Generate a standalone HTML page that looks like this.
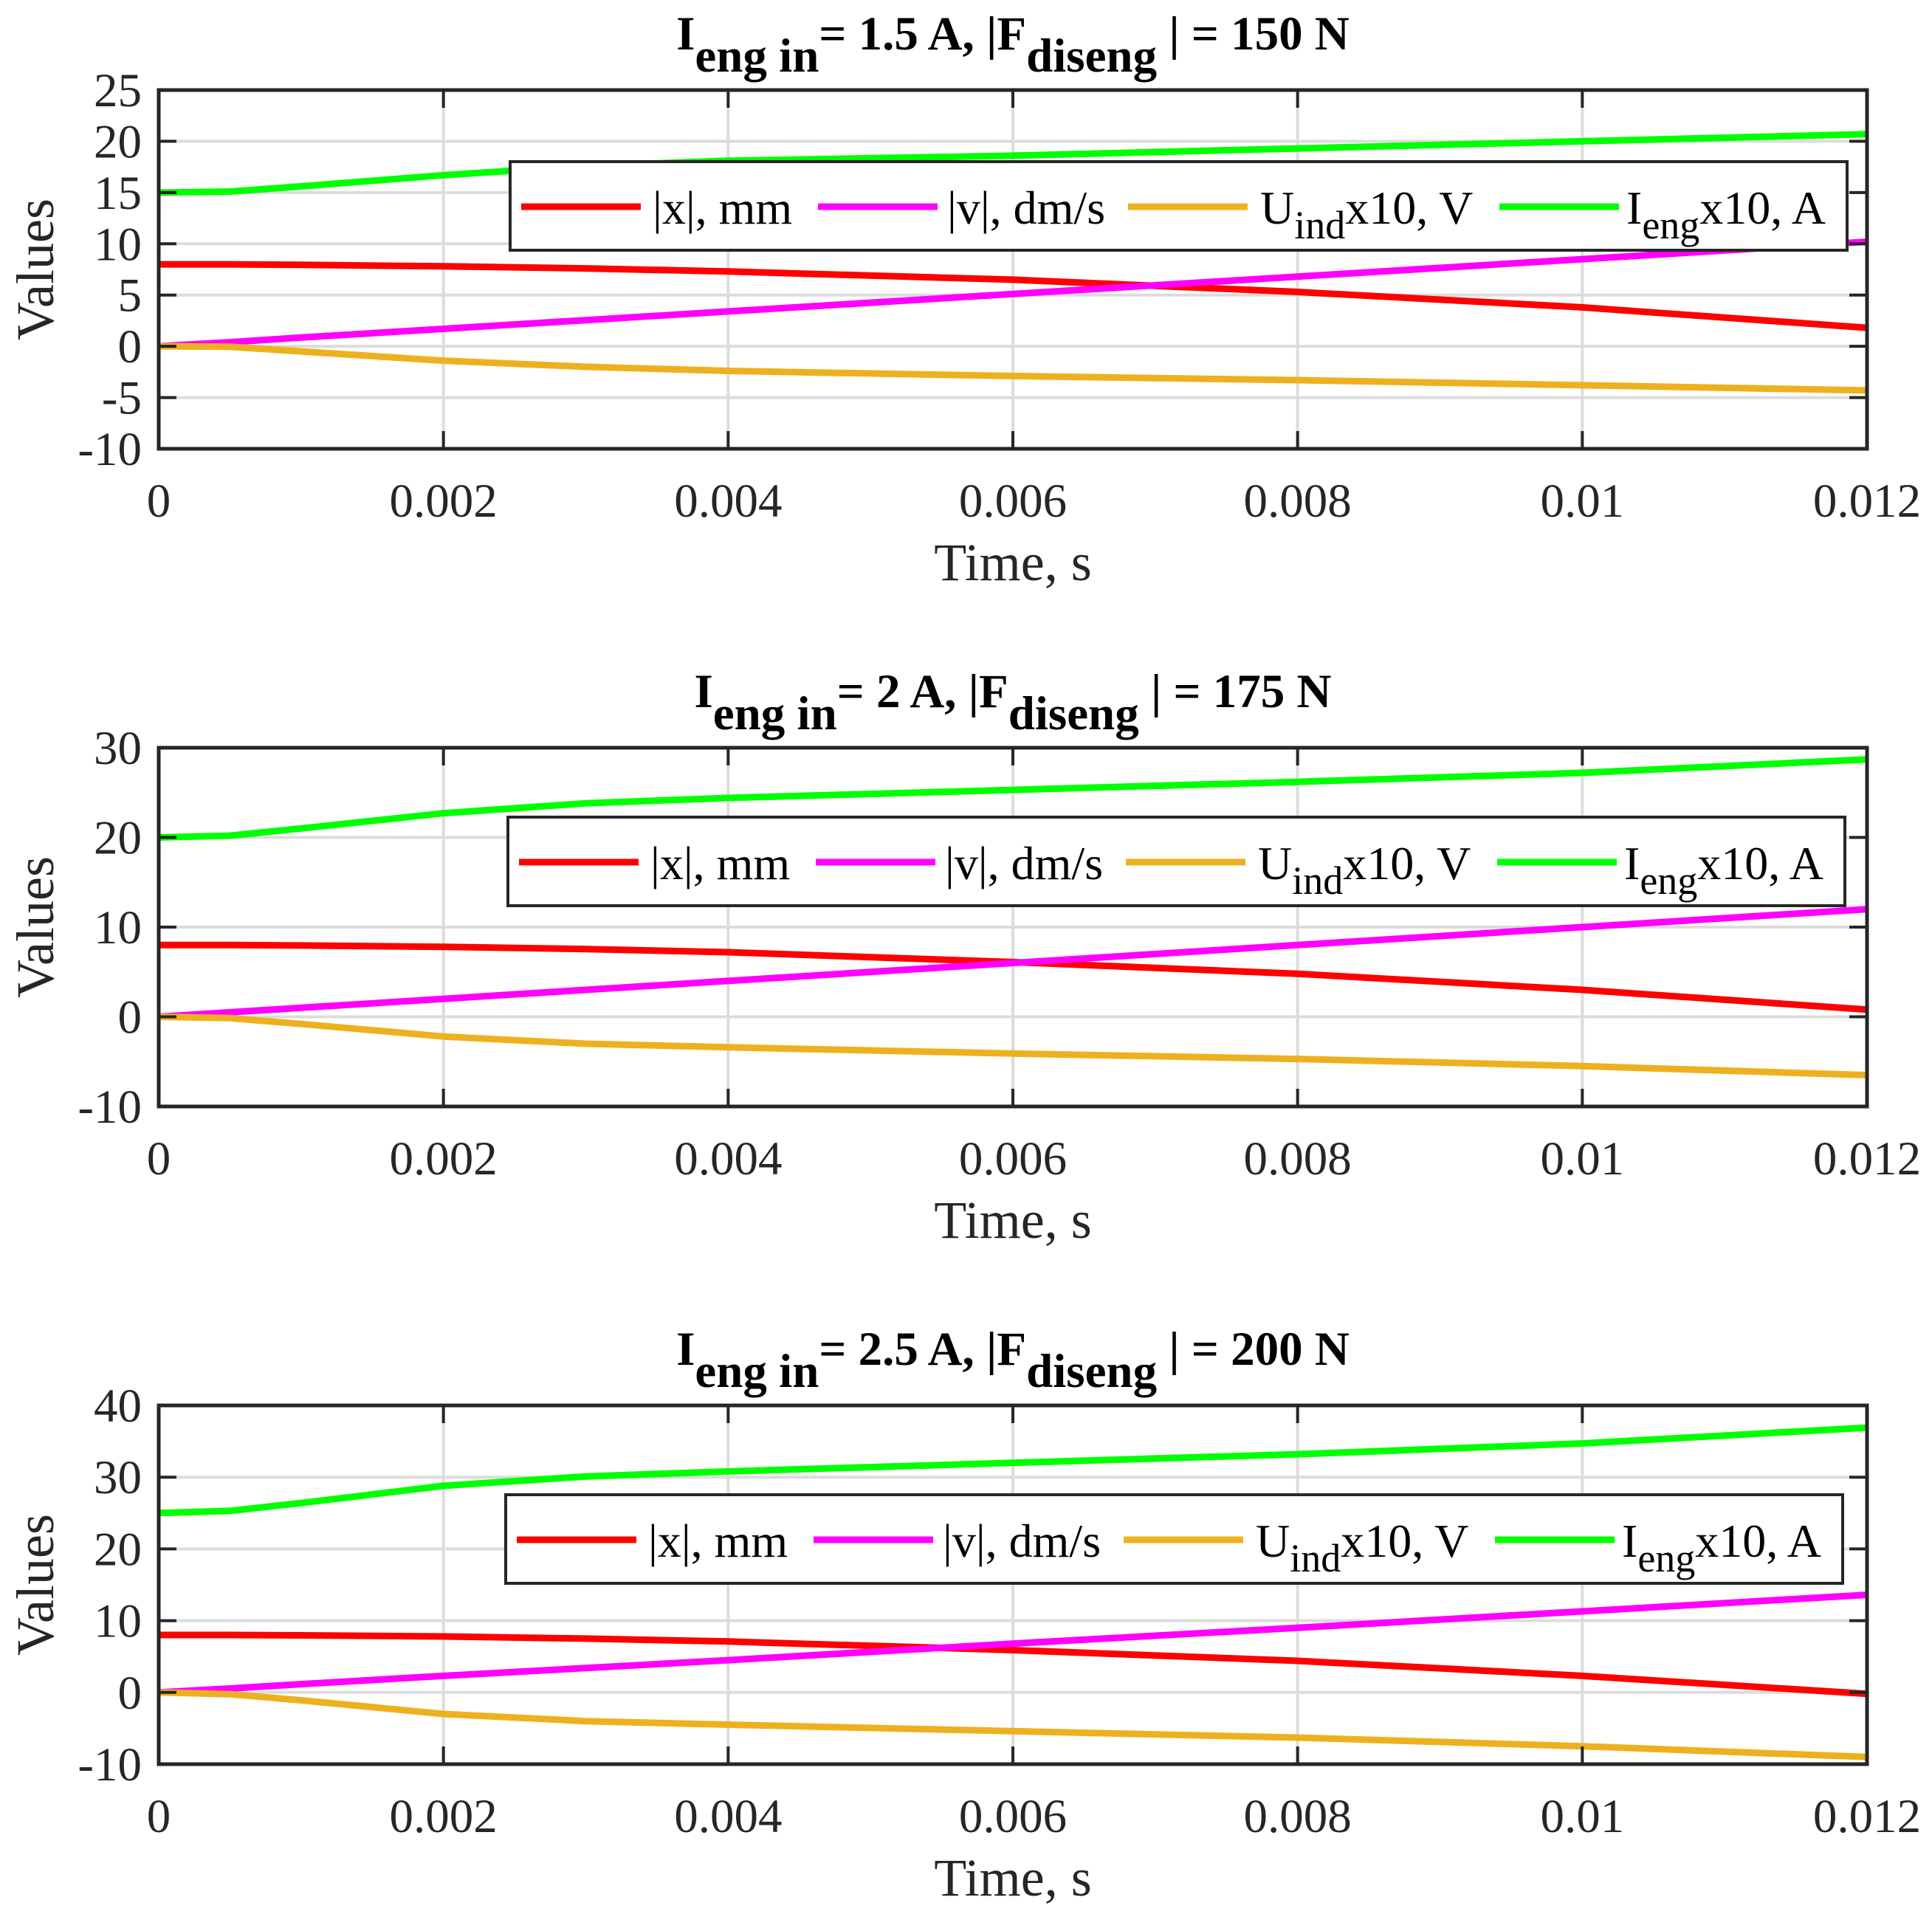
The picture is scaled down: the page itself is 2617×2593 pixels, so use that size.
<!DOCTYPE html>
<html><head><meta charset="utf-8"><style>
html,body{margin:0;padding:0;background:#fff}
svg{display:block;font-family:"Liberation Serif",serif}
</style></head><body>
<svg id="chart" xmlns="http://www.w3.org/2000/svg" width="2617" height="2593" viewBox="0 0 2617 2593"></svg>
<script>
const timePoints = [0,0.0005,0.001,0.002,0.003,0.004,0.006,0.008,0.010,0.012];
const xTicks = [0,0.002,0.004,0.006,0.008,0.010,0.012];
const xTickLabels = ["0","0.002","0.004","0.006","0.008","0.01","0.012"];
const seriesNames = ["|x|, mm","|v|, dm/s","U_ind x10, V","I_eng x10, A"];
const panelTitles = [["1.5","150"],["2","175"],["2.5","200"]];
const yTicks1 = [-10,-5,0,5,10,15,20,25];
const yTicks2 = [-10,0,10,20,30];
const yTicks3 = [-10,0,10,20,30,40];
// panel 1
const x1 = [8,8,7.95,7.8,7.6,7.3,6.5,5.3,3.8,1.8];
const v1 = [0,0.4,0.85,1.7,2.55,3.4,5.1,6.8,8.5,10.2];
const u1 = [0,-0.05,-0.5,-1.4,-2.0,-2.4,-2.9,-3.3,-3.8,-4.3];
const i1 = [15,15.1,15.6,16.7,17.6,18.1,18.6,19.3,20.0,20.7];
// panel 2
const x2 = [8,8,7.95,7.8,7.55,7.2,6.1,4.8,3.0,0.8];
const v2 = [0,0.5,1.0,2.0,3.0,4.0,6.0,8.0,10.0,12.0];
const u2 = [0,-0.15,-0.8,-2.2,-3.0,-3.4,-4.1,-4.7,-5.5,-6.5];
const i2 = [20,20.2,21.0,22.7,23.8,24.4,25.3,26.2,27.2,28.7];
// panel 3
const x3 = [8,8,7.95,7.8,7.5,7.1,5.9,4.4,2.3,-0.2];
const v3 = [0,0.55,1.15,2.3,3.4,4.5,6.8,9.0,11.3,13.6];
const u3 = [0,-0.25,-1.1,-3.0,-4.0,-4.5,-5.4,-6.3,-7.5,-9.0];
const i3 = [25,25.3,26.4,28.8,30.1,30.8,32.0,33.2,34.7,36.9];

const colors = ["#ff0000","#ff00ff","#edb120","#00ff00"];
const NS = "http://www.w3.org/2000/svg";
const svg = document.getElementById("chart");
function mk(tag, attrs, parent){const e=document.createElementNS(NS,tag);for(const k in attrs)e.setAttribute(k,attrs[k]);(parent||svg).appendChild(e);return e;}

const panels = [
 {dy:0, yt:yTicks1, data:[x1,v1,u1,i1], leg:[691,219,2502,339]},
 {dy:891, yt:yTicks2, data:[x2,v2,u2,i2], leg:[688,1107,2499,1227]},
 {dy:1782, yt:yTicks3, data:[x3,v3,u3,i3], leg:[685,2025,2496,2145]}
];
const L=215,R=2529,T0=122,H=486;
panels.forEach((p,pi)=>{
  const T=T0+p.dy, B=T+H;
  const g=mk("g",{});
  
  
  const ymin=p.yt[0], ymax=p.yt[p.yt.length-1];
  const sx=t=>L+(t-xTicks[0])/(xTicks[xTicks.length-1]-xTicks[0])*(R-L);
  const sy=v=>B-(v-ymin)/(ymax-ymin)*(B-T);
  xTicks.forEach(t=>{const l=mk("line",{x1:sx(t),x2:sx(t),y1:T,y2:B,stroke:"#dcdcdc","stroke-width":4},g);
    });
  p.yt.forEach(v=>{const l=mk("line",{x1:L,x2:R,y1:sy(v),y2:sy(v),stroke:"#dcdcdc","stroke-width":4},g);
    });
  p.data.forEach((arr,si)=>{
    const pts=arr.map((v,k)=>sx(timePoints[k]).toFixed(1)+","+sy(v).toFixed(1)).join(" ");
    const pl=mk("polyline",{points:pts,fill:"none",stroke:colors[si],"stroke-width":9,"stroke-linejoin":"round"},g);
    
  });
  xTicks.forEach((t,k)=>{
    mk("line",{x1:sx(t),x2:sx(t),y1:B,y2:B-24,stroke:"#262626","stroke-width":4},g);
    mk("line",{x1:sx(t),x2:sx(t),y1:T,y2:T+24,stroke:"#262626","stroke-width":4},g);
    const tx=mk("text",{x:sx(t),y:B+92,"text-anchor":"middle","font-size":65,fill:"#262626"},g);
    tx.textContent=xTickLabels[k];
    
  });
  p.yt.forEach(v=>{
    mk("line",{x1:L,x2:L+24,y1:sy(v),y2:sy(v),stroke:"#262626","stroke-width":4},g);
    mk("line",{x1:R,x2:R-24,y1:sy(v),y2:sy(v),stroke:"#262626","stroke-width":4},g);
    const tx=mk("text",{x:192,y:sy(v)+22,"text-anchor":"end","font-size":65,fill:"#262626"},g);
    tx.textContent=String(v);
    
  });
  const box=mk("rect",{x:L,y:T,width:R-L,height:B-T,fill:"none",stroke:"#262626","stroke-width":5},g);
  
  const xl=mk("text",{x:(L+R)/2,y:B+178,"text-anchor":"middle","font-size":72,fill:"#262626"},g);
  xl.textContent="Time, s";
  
  const yl=mk("text",{x:0,y:0,"text-anchor":"middle","font-size":72,fill:"#262626",transform:`translate(72,${(T+B)/2}) rotate(-90)`},g);
  yl.textContent="Values";
  
  const tt=mk("text",{x:(L+R)/2,y:T-55,"text-anchor":"middle","font-size":65,"font-weight":"bold",fill:"#000"},g);
  
  tt.innerHTML=`I<tspan dy="30">eng in</tspan><tspan dy="-30">= ${panelTitles[pi][0]} A, |F</tspan><tspan dy="30">diseng</tspan><tspan dy="-30"> | = ${panelTitles[pi][1]} N</tspan>`;
  const [lx0,ly0,lx1,ly1]=p.leg;
  const lg=mk("g",{},g);
  
  mk("rect",{x:lx0,y:ly0,width:lx1-lx0,height:ly1-ly0,fill:"#fff",stroke:"#262626","stroke-width":4},lg);
  const off=[[15,193],[417,592],[837,1016],[1340,1512]];
  const ly=ly0+61, tb=ly0+84;
  off.forEach((o,si)=>{
    const ln=mk("line",{x1:lx0+o[0],x2:lx0+o[0]+162,y1:ly,y2:ly,stroke:colors[si],"stroke-width":9},lg);
    
    const t=mk("text",{x:lx0+o[1],y:tb,"font-size":64,fill:"#000"},lg);
    
    if(si===2) t.innerHTML='U<tspan dy="20" font-size="54">ind</tspan><tspan dy="-20">x10, V</tspan>';
    else if(si===3) t.innerHTML='I<tspan dy="20" font-size="54">eng</tspan><tspan dy="-20">x10, A</tspan>';
    else t.textContent=seriesNames[si];
  });
});
</script>
</body></html>
